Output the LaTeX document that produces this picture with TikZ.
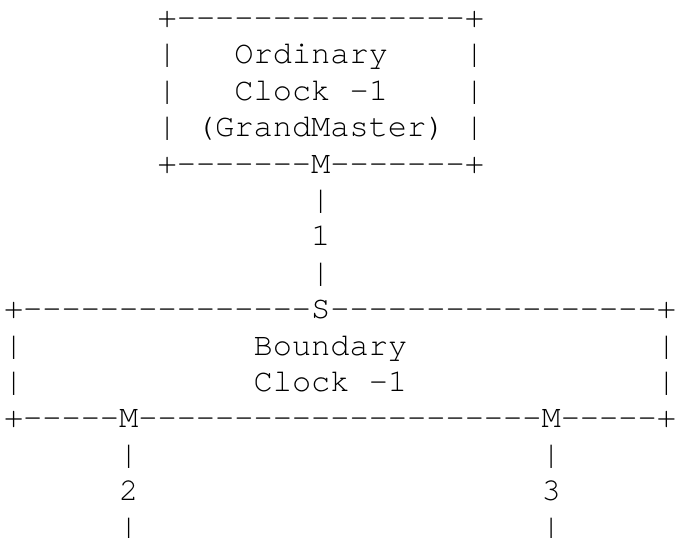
\documentclass[tikz,border=0pt]{standalone}
\usepackage{fontspec}
\setmonofont{TeX Gyre Cursor}
\begin{document}
\begin{tikzpicture}[x=14.4pt,y=-27.3pt,
  asc/.style={anchor=base west,inner sep=0pt,outer sep=0pt,
    font=\ttfamily\fontsize{24pt}{24pt}\selectfont,text=black}]
\useasboundingbox[fill=white] (-3pt,20.6pt) rectangle (504pt,-382.9pt);
\node[asc] (t1) at (8,0) {+---------------+};
\node[asc] (t2a) at (8,1) {|};
\node[asc] (t2b) at (12,1) {Ordinary};
\node[asc] (t2c) at (24,1) {|};
\node[asc] (t3a) at (8,2) {|};
\node[asc] (t3b) at (12,2) {Clock -1};
\node[asc] (t3c) at (24,2) {|};
\node[asc] (t4a) at (8,3) {|};
\node[asc] (t4b) at (10,3) {(GrandMaster)};
\node[asc] (t4c) at (24,3) {|};
\node[asc] (t5) at (8,4) {+-------M-------+};
\node[asc] (t6) at (16,5) {|};
\node[asc] (t7) at (16,6) {1};
\node[asc] (t8) at (16,7) {|};
\node[asc] (t9) at (0,8) {+---------------S-----------------+};
\node[asc] (t10a) at (0,9) {|};
\node[asc] (t10b) at (13,9) {Boundary};
\node[asc] (t10c) at (34,9) {|};
\node[asc] (t11a) at (0,10) {|};
\node[asc] (t11b) at (13,10) {Clock -1};
\node[asc] (t11c) at (34,10) {|};
\node[asc] (t12) at (0,11) {+-----M---------------------M-----+};
\node[asc] (t13a) at (6,12) {|};
\node[asc] (t13b) at (28,12) {|};
\node[asc] (t14a) at (6,13) {2};
\node[asc] (t14b) at (28,13) {3};
\node[asc] (t15a) at (6,14) {|};
\node[asc] (t15b) at (28,14) {|};
\end{tikzpicture}
\end{document}
